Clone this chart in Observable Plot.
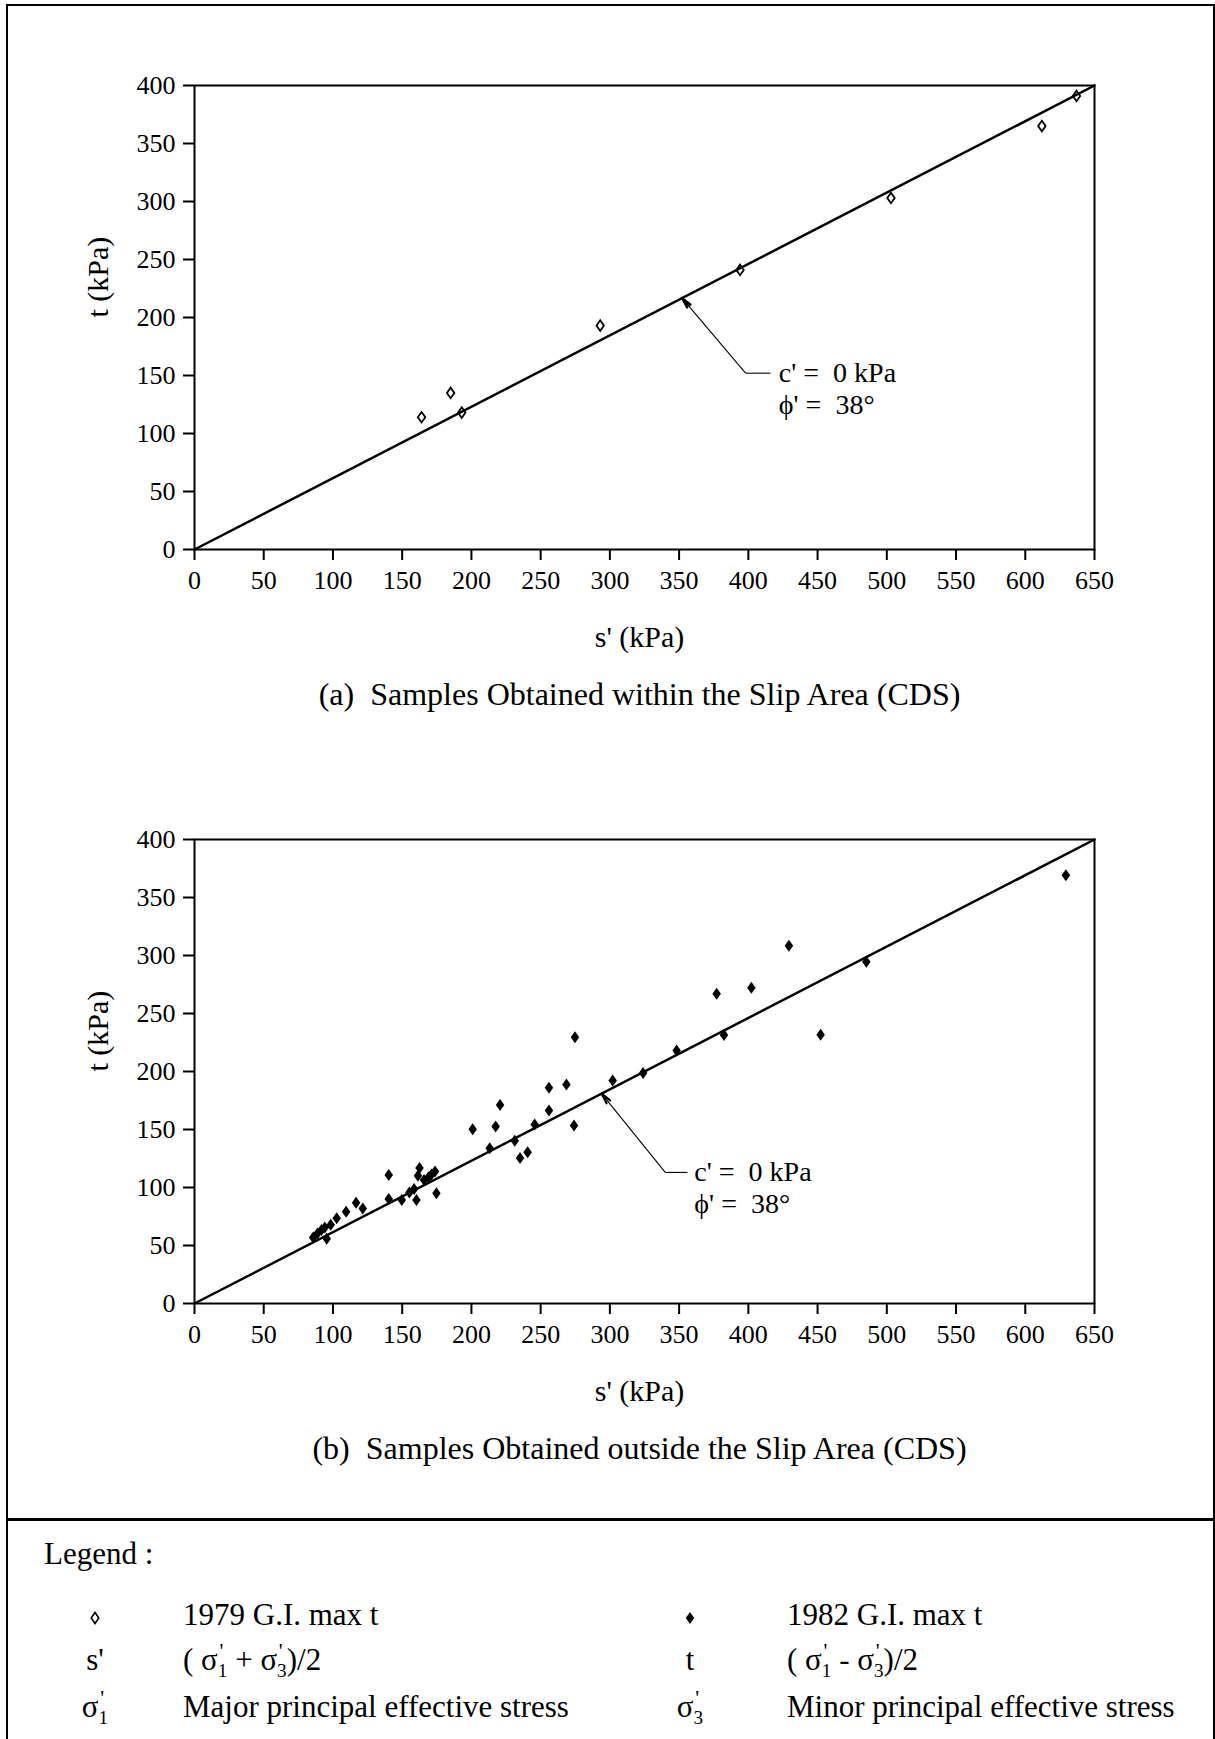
<!DOCTYPE html>
<html><head><meta charset="utf-8">
<script src="https://cdn.jsdelivr.net/npm/d3@7"></script>
<script src="https://cdn.jsdelivr.net/npm/@observablehq/plot@0.6"></script>
<style>
html,body{margin:0;padding:0;background:#fff;}
body{width:1215px;height:1739px;overflow:hidden;position:relative;font-family:"Liberation Serif","Times New Roman",serif;color:#000;}
#border{position:absolute;left:6px;top:4px;width:1209px;height:1800px;box-sizing:border-box;border:2.5px solid #000;}
#sep{position:absolute;left:6px;top:1518px;width:1209px;height:0;border-top:3px solid #000;}
.chart{position:absolute;left:0;}
.chart svg text{font-family:"Liberation Serif","Times New Roman",serif !important;}
.chart svg [aria-label$="tick"]{stroke-width:2px;}
.lg{position:absolute;font-size:31px;line-height:31px;white-space:pre;}
.sym{position:absolute;font-size:31px;line-height:31px;white-space:pre;transform:translateX(-50%);}
.sg{position:relative;display:inline-block;}
.sg .pr{position:absolute;left:0.08em;top:-0.38em;font-size:0.7em;}
.sg .sb{font-size:0.62em;position:relative;top:0.35em;}
</style></head><body>
<div id="border"></div>
<div id="chartA" class="chart" style="top:0px"></div>
<div id="chartB" class="chart" style="top:754px"></div>
<div id="sep"></div>
<div class="lg" style="left:44px;top:1538px">Legend :</div>
<div id="legend"></div>
<script>
// ---- data ----
const xTicks = [0, 50, 100, 150, 200, 250, 300, 350, 400, 450, 500, 550, 600, 650];
const yTicks = [0, 50, 100, 150, 200, 250, 300, 350, 400];

// (a) 1979 G.I. samples within slip area
const s1979 = [164, 185, 193, 293, 394, 503, 612, 637];
const t1979 = [114, 135, 118, 193, 241, 303, 365, 391];

// (b) 1982 G.I. samples outside slip area
const s1982 = [85.7, 88.8, 91.7, 94.1, 95.5, 98.4, 102.7, 109.5, 116.7, 121.5, 140.3, 140.3, 149.7, 155.2, 158.6, 160.3, 162.5, 161.4, 165.8, 169.0, 171.1, 173.7, 174.7, 200.9, 213.2, 217.5, 220.7, 231.3, 235.1, 240.6, 245.7, 256.0, 256.0, 268.6, 274.8, 274.1, 302.0, 324.0, 348.2, 377.1, 382.4, 402.2, 429.3, 452.2, 485.2, 629.3];
const t1982 = [57.0, 60.4, 63.3, 65.6, 55.8, 67.9, 73.4, 79.2, 86.9, 82.0, 110.8, 90.1, 89.2, 95.6, 98.7, 89.2, 116.9, 110.2, 106.5, 108.8, 111.1, 113.7, 95.0, 150.2, 133.8, 152.5, 171.2, 140.4, 125.5, 130.3, 154.3, 185.9, 166.3, 188.8, 229.6, 153.4, 192.2, 198.6, 218.1, 267.0, 231.4, 272.2, 308.5, 231.7, 294.7, 369.2];

// failure envelope c' = 0, phi' = 38 deg
const envelopeS = [0, 650];
const envelopeT = [0, 400];

// annotation anchors (data units): arrow tip, elbow, leader end, text start; headInset = shaft length in px minus head
const annotA = {tipS: 352, tipT: 217, elbowS: 398, elbowT: 152, endS: 416, textS: 422, headInset: 88};
const annotB = {tipS: 294, tipT: 181, elbowS: 340, elbowT: 113, endS: 356, textS: 361, headInset: 98};
const annotLines = ["c'\u00a0=\u00a0\u00a00 kPa", "\u03d5'\u00a0=\u00a0\u00a038°"];

const xTitle = "s' (kPa)";
const yTitle = "t (kPa)";
const captionA = "(a)\u00a0\u00a0Samples Obtained within the Slip Area (CDS)";
const captionB = "(b)\u00a0\u00a0Samples Obtained outside the Slip Area (CDS)";

// ---- helpers ----
const toPts = (S, T) => S.map((s, i) => ({s, t: T[i]}));
const envelope = toPts(envelopeS, envelopeT);
const narrowDiamond = {
  draw(ctx, size) {
    const r = Math.sqrt(size / Math.PI);
    const w = r * 0.85, h = r * 1.2;
    ctx.moveTo(0, -h); ctx.lineTo(w, 0); ctx.lineTo(0, h); ctx.lineTo(-w, 0); ctx.closePath();
  }
};
const FONT = '"Liberation Serif", "Times New Roman", serif';

function makeChart(points, filled, ann, caption) {
  return Plot.plot({
    width: 1215, height: 720,
    marginTop: 85, marginBottom: 171, marginLeft: 194, marginRight: 121,
    x: {domain: [0, 650]},
    y: {domain: [0, 400]},
    style: {fontFamily: FONT, fontSize: "26px", color: "#000", background: "transparent", overflow: "visible"},
    marks: [
      Plot.axisX(xTicks, {tickSize: 11, tickPadding: 10, tickFormat: d3.format("d"), label: null, fontSize: 26, fontFamily: FONT}),
      Plot.axisY(yTicks, {tickSize: 11, tickPadding: 8, tickFormat: d3.format("d"), label: null, fontSize: 26, fontFamily: FONT}),
      Plot.frame({strokeWidth: 2, stroke: "#000"}),
      Plot.line(envelope, {x: "s", y: "t", stroke: "#000", strokeWidth: 2.5}),
      filled
        ? Plot.dot(points, {x: "s", y: "t", r: 5, symbol: narrowDiamond, fill: "#000", stroke: "none"})
        : Plot.dot(points, {x: "s", y: "t", r: 4.4, symbol: narrowDiamond, fill: "none", stroke: "#000", strokeWidth: 1.8}),
      // thin shaft of the annotation arrow
      Plot.link([ann], {x1: "elbowS", y1: "elbowT", x2: "tipS", y2: "tipT", stroke: "#000", strokeWidth: 1.1}),
      // narrow solid head: a short, thicker arrow at the tip
      Plot.arrow([ann], {x1: "elbowS", y1: "elbowT", x2: "tipS", y2: "tipT", stroke: "#000", strokeWidth: 2.2, headLength: 7.5, headAngle: 24, insetStart: ann.headInset}),
      Plot.link([ann], {x1: "elbowS", y1: "elbowT", x2: "endS", y2: "elbowT", stroke: "#000", strokeWidth: 1.1}),
      Plot.text([ann], {x: "textS", y: "elbowT", text: () => annotLines[0], textAnchor: "start", fontSize: 28}),
      Plot.text([ann], {x: "textS", y: "elbowT", dy: 32, text: () => annotLines[1], textAnchor: "start", fontSize: 28}),
      Plot.text([xTitle], {frameAnchor: "bottom", dy: 97, dx: -5, fontSize: 30}),
      Plot.text([yTitle], {frameAnchor: "left", dx: -96, rotate: -90, fontSize: 30}),
      Plot.text([caption], {frameAnchor: "bottom", dy: 155, dx: -5, fontSize: 32})
    ]
  });
}

document.getElementById("chartA").append(makeChart(toPts(s1979, t1979), false, annotA, captionA));
document.getElementById("chartB").append(makeChart(toPts(s1982, t1982), true, annotB, captionB));

// ---- legend ----
const sig = n => `σ<span class="sg"><span class="pr">'</span><span class="sb">${n}</span></span>`;
const openD = `<svg width="12" height="14" viewBox="-6 -7 12 14" style="vertical-align:middle"><path d="M0,-5.5L3.8,0L0,5.5L-3.8,0Z" fill="none" stroke="#000" stroke-width="1.6"/></svg>`;
const fillD = `<svg width="12" height="14" viewBox="-6 -7 12 14" style="vertical-align:middle"><path d="M0,-6L4.2,0L0,6L-4.2,0Z" fill="#000"/></svg>`;
const legendSymbols = [openD, "s'", sig(1), fillD, "t", sig(3)];
const legendTexts = ["1979 G.I. max t", `( ${sig(1)} + ${sig(3)})/2`, "Major principal effective stress",
                     "1982 G.I. max t", `( ${sig(1)} - ${sig(3)})/2`, "Minor principal effective stress"];
const rowTops = [1599, 1644, 1691];
const colSym = [95, 690], colText = [183, 787];
let html = "";
legendSymbols.forEach((sym, i) => {
  const c = Math.floor(i / 3), r = i % 3;
  html += `<div class="sym" style="left:${colSym[c]}px;top:${rowTops[r]}px">${sym}</div>`;
  html += `<div class="lg" style="left:${colText[c]}px;top:${rowTops[r]}px">${legendTexts[i]}</div>`;
});
document.getElementById("legend").innerHTML = html;
</script>
</body></html>
